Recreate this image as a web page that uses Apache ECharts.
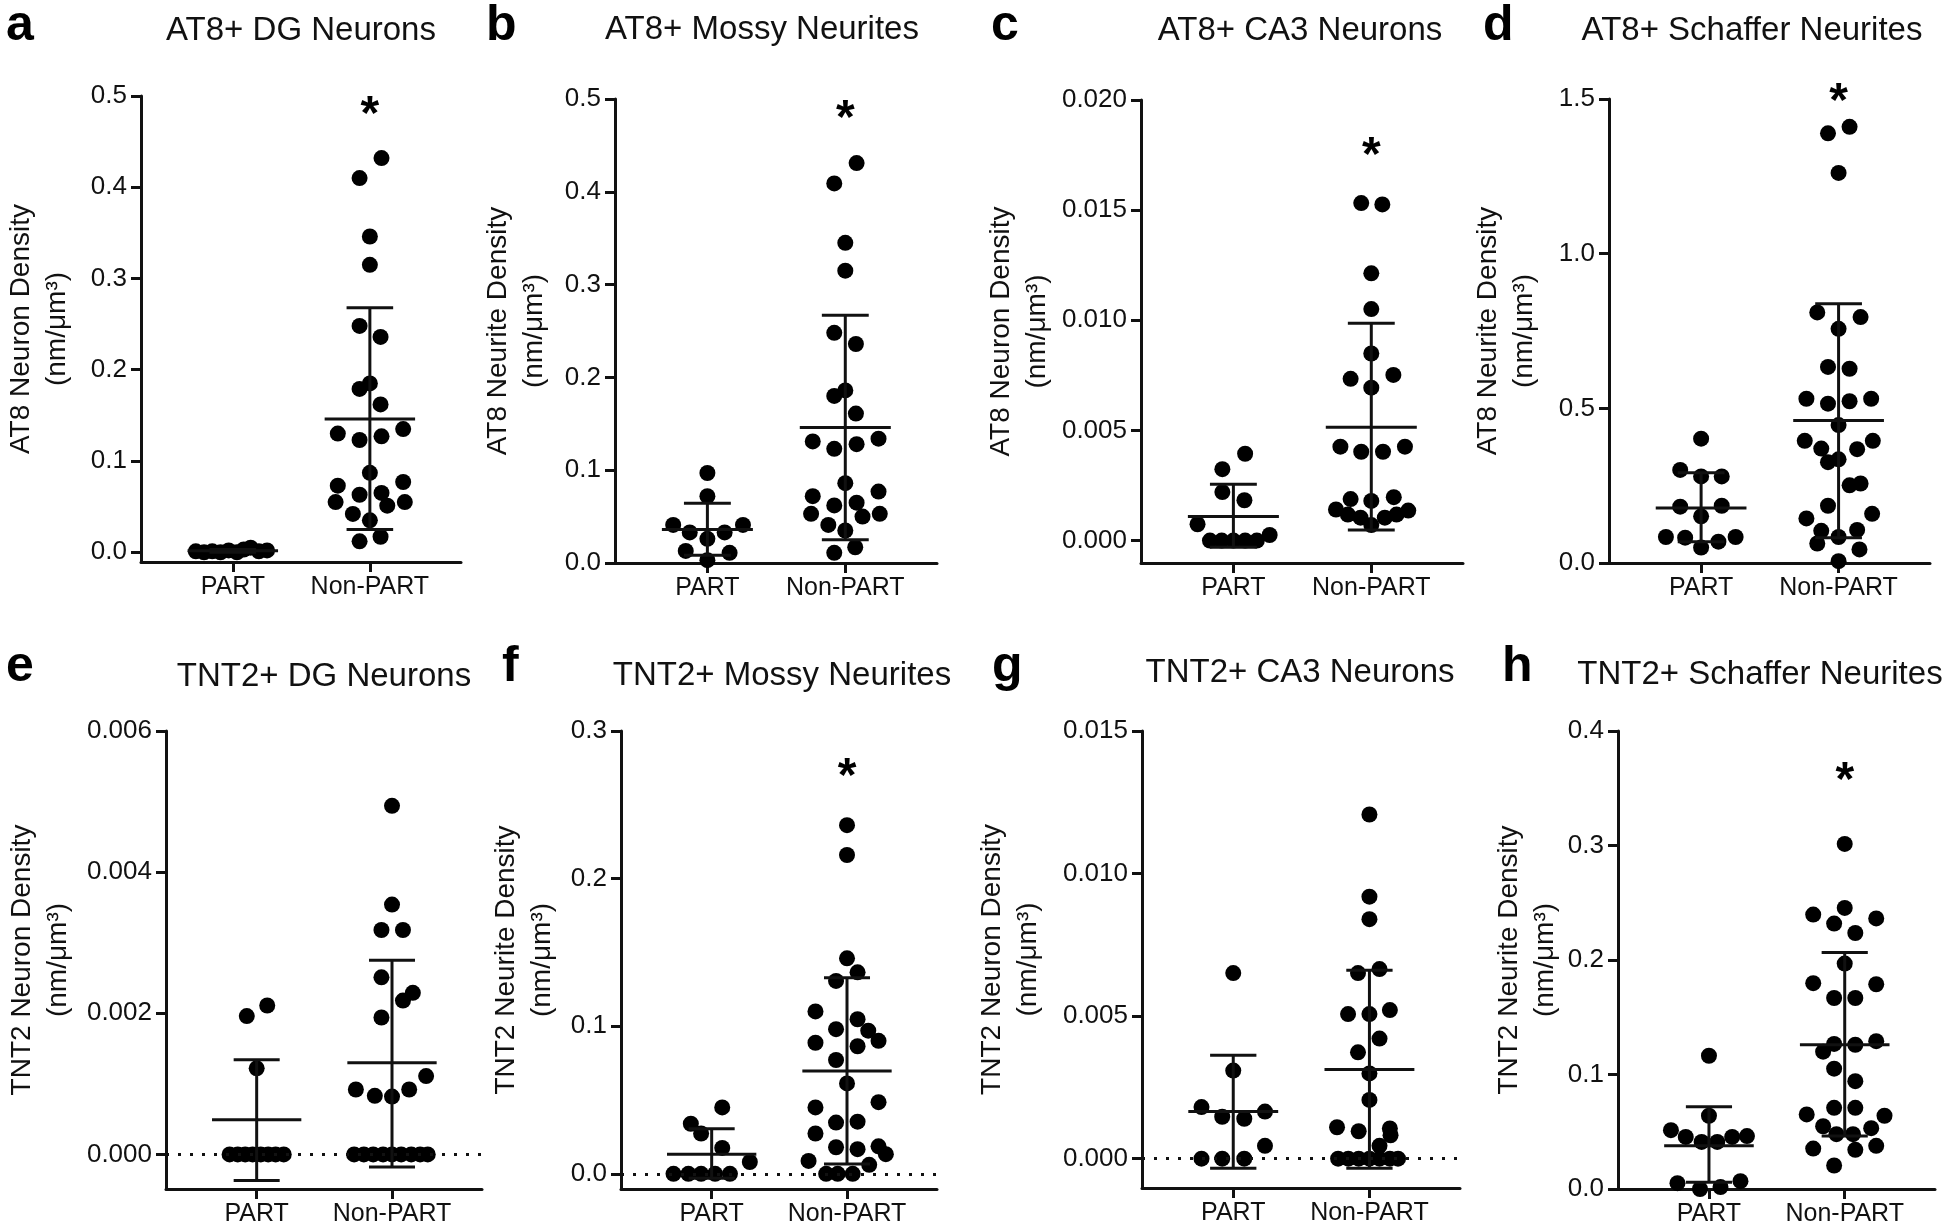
<!DOCTYPE html>
<html>
<head>
<meta charset="utf-8">
<title>AT8 / TNT2 density, PART vs Non-PART</title>
<script src="https://cdn.jsdelivr.net/npm/echarts@6/dist/echarts.min.js"></script>
<style>
  html, body { margin: 0; padding: 0; background: #fff; }
  #chart { width: 1946px; height: 1228px; }
</style>
</head>
<body>
<div id="chart"></div>
<script>
const groups = ['PART', 'Non-PART']
const letters = ['a', 'b', 'c', 'd', 'e', 'f', 'g', 'h']
const titles = [
  'AT8+ DG Neurons', 'AT8+ Mossy Neurites', 'AT8+ CA3 Neurons', 'AT8+ Schaffer Neurites',
  'TNT2+ DG Neurons', 'TNT2+ Mossy Neurites', 'TNT2+ CA3 Neurons', 'TNT2+ Schaffer Neurites'
]
const yNames = [
  'AT8 Neuron Density\n(nm/μm³)', 'AT8 Neurite Density\n(nm/μm³)',
  'AT8 Neuron Density\n(nm/μm³)', 'AT8 Neurite Density\n(nm/μm³)',
  'TNT2 Neuron Density\n(nm/μm³)', 'TNT2 Neurite Density\n(nm/μm³)',
  'TNT2 Neuron Density\n(nm/μm³)', 'TNT2 Neurite Density\n(nm/μm³)'
]

// axis ranges and ticks
const yMin = [-0.0107, 0, -0.00102, 0, -0.00049, -0.0103, -0.00103, 0]
const yMax = [0.5, 0.5, 0.020, 1.5, 0.006, 0.3, 0.015, 0.4]
const yTicks = [
  [0, 0.1, 0.2, 0.3, 0.4, 0.5],
  [0, 0.1, 0.2, 0.3, 0.4, 0.5],
  [0, 0.005, 0.010, 0.015, 0.020],
  [0, 0.5, 1.0, 1.5],
  [0, 0.002, 0.004, 0.006],
  [0, 0.1, 0.2, 0.3],
  [0, 0.005, 0.010, 0.015],
  [0, 0.1, 0.2, 0.3, 0.4]
]
const yTickLabels = [
  ['0.0', '0.1', '0.2', '0.3', '0.4', '0.5'],
  ['0.0', '0.1', '0.2', '0.3', '0.4', '0.5'],
  ['0.000', '0.005', '0.010', '0.015', '0.020'],
  ['0.0', '0.5', '1.0', '1.5'],
  ['0.000', '0.002', '0.004', '0.006'],
  ['0.0', '0.1', '0.2', '0.3'],
  ['0.000', '0.005', '0.010', '0.015'],
  ['0.0', '0.1', '0.2', '0.3', '0.4']
]

// dots: [horizontal jitter from group centre, value]
const at8DgPart = [[-0.27, 0.001], [-0.21, 0.0], [-0.15, 0.001], [-0.09, 0.0], [-0.03, 0.002],
  [0.03, 0.0], [0.08, 0.003], [0.13, 0.005], [0.19, 0.001], [0.25, 0.002]]
const at8DgNonPart = [[0.085, 0.432], [-0.075, 0.410], [0, 0.346], [0, 0.315], [-0.075, 0.248],
  [0.078, 0.236], [0, 0.185], [-0.075, 0.179], [0.078, 0.162], [-0.234, 0.130], [-0.075, 0.123],
  [0.085, 0.127], [0.243, 0.135], [0, 0.087], [-0.234, 0.073], [0.243, 0.077], [-0.075, 0.063],
  [0.085, 0.065], [-0.25, 0.055], [0.127, 0.051], [0.255, 0.055], [-0.124, 0.042], [0, 0.035],
  [-0.075, 0.012], [0.078, 0.017]]

const at8MossyPart = [[0, 0.097], [0, 0.072], [-0.248, 0.041], [-0.128, 0.033], [0, 0.026],
  [0.125, 0.033], [0.258, 0.041], [-0.157, 0.013], [0.161, 0.011], [0, 0.003]]
const at8MossyNonPart = [[0.082, 0.431], [-0.08, 0.409], [0, 0.345], [0, 0.315], [-0.08, 0.248],
  [0.077, 0.236], [0, 0.186], [-0.08, 0.180], [0.077, 0.161], [-0.236, 0.131], [-0.08, 0.123],
  [0.082, 0.128], [0.241, 0.134], [0, 0.086], [-0.236, 0.072], [0.241, 0.077], [-0.08, 0.062],
  [0.082, 0.065], [-0.248, 0.053], [0.125, 0.050], [0.25, 0.053], [-0.123, 0.041], [0, 0.035],
  [-0.08, 0.011], [0.072, 0.017]]

const at8Ca3Part = [[0.085, 0.00394], [-0.08, 0.00324], [-0.08, 0.0022], [0.08, 0.00183],
  [-0.26, 0.00074], [-0.17, 0], [-0.085, 0], [0, 0], [0.085, 0], [0.17, 0], [0.263, 0.00025]]
const at8Ca3NonPart = [[-0.073, 0.01532], [0.08, 0.01526], [0, 0.01213], [0, 0.01051], [0, 0.00849],
  [-0.15, 0.00734], [0.16, 0.00752], [0, 0.00694], [-0.224, 0.00426], [-0.073, 0.00403],
  [0.085, 0.00403], [0.244, 0.00426], [-0.15, 0.00188], [0, 0.0018], [0.163, 0.00197],
  [-0.256, 0.00141], [-0.17, 0.00118], [-0.078, 0.00104], [0, 0.0007], [0.098, 0.00104],
  [0.183, 0.00118], [0.268, 0.00136]]

const at8SchafferPart = [[0, 0.402], [-0.152, 0.301], [0, 0.28], [0.15, 0.28], [-0.152, 0.182],
  [0, 0.151], [0.15, 0.185], [-0.256, 0.084], [-0.116, 0.082], [0, 0.05], [0.126, 0.069], [0.251, 0.084]]
const at8SchafferNonPart = [[-0.077, 1.389], [0.08, 1.41], [0, 1.261], [-0.155, 0.81], [0.16, 0.795],
  [0, 0.757], [-0.077, 0.634], [0.08, 0.628], [-0.234, 0.531], [-0.077, 0.515], [0.08, 0.523],
  [0.237, 0.531], [0, 0.446], [-0.246, 0.395], [-0.126, 0.37], [0.135, 0.368], [0.249, 0.395],
  [-0.077, 0.326], [0, 0.335], [0.08, 0.251], [0.16, 0.257], [-0.077, 0.185], [-0.234, 0.144],
  [0.244, 0.159], [-0.126, 0.104], [0, 0.084], [0.135, 0.107], [-0.155, 0.063], [0.152, 0.044], [0, 0.006]]

const tnt2DgPart = [[0.078, 0.00211], [-0.073, 0.00196], [0, 0.00122], [-0.2, 0], [-0.14, 0],
  [-0.085, 0], [-0.03, 0], [0.03, 0], [0.085, 0], [0.14, 0], [0.2, 0]]
const tnt2DgNonPart = [[0, 0.00494], [0, 0.00354], [-0.078, 0.00318], [0.081, 0.00318], [-0.078, 0.00251],
  [0.154, 0.00229], [0.081, 0.00218], [-0.078, 0.00194], [0.252, 0.00111], [-0.267, 0.00092],
  [-0.127, 0.00083], [0, 0.00082], [0.127, 0.00092], [-0.28, 0], [-0.208, 0], [-0.139, 0],
  [-0.066, 0], [0, 0], [0.068, 0], [0.142, 0], [0.208, 0], [0.264, 0]]

const tnt2MossyPart = [[0.078, 0.045], [-0.154, 0.0339], [-0.078, 0.0273], [0.078, 0.0175],
  [0.282, 0.008], [-0.282, 0], [-0.172, 0], [-0.078, 0], [0.025, 0], [0.135, 0]]
const tnt2MossyNonPart = [[0, 0.2362], [0, 0.216], [0, 0.146], [0.078, 0.1365], [-0.081, 0.1307],
  [-0.233, 0.110], [0.078, 0.1047], [-0.081, 0.098], [0.157, 0.097], [-0.233, 0.0888], [0.233, 0.0901],
  [0.078, 0.0864], [-0.081, 0.0771], [0, 0.0612], [-0.233, 0.045], [0.233, 0.0485], [-0.081, 0.0347],
  [0.078, 0.0353], [-0.233, 0.0273], [-0.081, 0.018], [0.078, 0.0167], [0.233, 0.0186], [0.287, 0.0133],
  [-0.284, 0.0087], [0.164, 0.0061], [-0.154, 0], [-0.069, 0], [0.042, 0]]

const tnt2Ca3Part = [[0, 0.00651], [0, 0.00309], [-0.233, 0.00181], [0.233, 0.00165], [-0.081, 0.00147],
  [0.081, 0.0014], [0.233, 0.00045], [-0.233, 0], [-0.081, 0], [0.081, 0]]
const tnt2Ca3NonPart = [[0, 0.01207], [0, 0.00919], [0, 0.0084], [-0.084, 0.00651], [0.074, 0.00665],
  [-0.157, 0.00507], [0, 0.00507], [0.15, 0.00521], [0.074, 0.00421], [-0.084, 0.00373], [0, 0.00299],
  [0, 0.00206], [-0.238, 0.0011], [-0.079, 0.00096], [0.15, 0.00106], [0.155, 0.00082], [0.074, 0.00045],
  [-0.23, 0], [-0.155, 0], [-0.079, 0], [0, 0], [0.074, 0], [0.15, 0], [0.21, 0]]

const tnt2SchafferPart = [[0, 0.1164], [0, 0.064], [-0.28, 0.0514], [-0.171, 0.0455], [-0.054, 0.0411],
  [0.061, 0.0411], [0.171, 0.0455], [0.28, 0.0462], [-0.232, 0.0051], [0.085, 0.0017], [-0.066, 0], [0.232, 0.0068]]
const tnt2SchafferNonPart = [[0, 0.3014], [-0.232, 0.2397], [0, 0.2455], [0.232, 0.2363], [-0.078, 0.2318],
  [0.078, 0.2236], [0, 0.1969], [-0.232, 0.1798], [0.232, 0.1788], [-0.078, 0.1668], [0.078, 0.1668],
  [-0.078, 0.1267], [0.232, 0.1291], [0.078, 0.126], [-0.159, 0.1199], [-0.078, 0.1051], [0.078, 0.0942],
  [-0.078, 0.0709], [0.078, 0.0709], [-0.28, 0.0651], [0.293, 0.064], [-0.159, 0.0548], [0.195, 0.0531],
  [-0.061, 0.0479], [0.061, 0.0479], [-0.232, 0.0353], [0.078, 0.0342], [0.232, 0.0377], [-0.078, 0.0205]]

// mean line and SD whiskers: [mean, low, high] for PART, Non-PART
const at8DgBars = [[0.0015, 0.0, 0.003], [0.146, 0.025, 0.268]]
const at8MossyBars = [[0.036, 0.0083, 0.0645], [0.146, 0.025, 0.267]]
const at8Ca3Bars = [[0.00109, -0.0003, 0.00255], [0.00514, 0.00048, 0.00986]]
const at8SchafferBars = [[0.178, 0.069, 0.292], [0.461, 0.082, 0.838]]
const tnt2DgBars = [[0.00049, -0.00037, 0.00134], [0.0013, -0.00018, 0.00275]]
const tnt2MossyBars = [[0.0133, -0.003, 0.0305], [0.0697, 0.0066, 0.1328]]
const tnt2Ca3Bars = [[0.00165, -0.00034, 0.00363], [0.00313, -0.00034, 0.00661]]
const tnt2SchafferBars = [[0.0377, 0.0058, 0.0719], [0.126, 0.0462, 0.2065]]

// significance star above Non-PART (null = none)
const starValues = [0.49, 0.49, 0.0179, 1.525, null, 0.276, null, 0.365]
const zeroLine = [false, false, false, false, true, true, true, false]

const partDots = [at8DgPart, at8MossyPart, at8Ca3Part, at8SchafferPart, tnt2DgPart, tnt2MossyPart, tnt2Ca3Part, tnt2SchafferPart]
const nonPartDots = [at8DgNonPart, at8MossyNonPart, at8Ca3NonPart, at8SchafferNonPart, tnt2DgNonPart, tnt2MossyNonPart, tnt2Ca3NonPart, tnt2SchafferNonPart]
const errorBars = [at8DgBars, at8MossyBars, at8Ca3Bars, at8SchafferBars, tnt2DgBars, tnt2MossyBars, tnt2Ca3Bars, tnt2SchafferBars]

// layout (px)
const gridLeft = [141, 615, 1141, 1609, 166, 621, 1142, 1618]
const gridWidth = [320, 322, 322, 321, 316, 316, 318, 317]
const gridTop = [96, 99, 100, 99, 731, 731, 731, 731]
const gridHeight = [466, 464, 463, 464, 458, 458, 457, 458]
const nameGap = [66, 63, 86, 67, 90, 61, 96, 55]
const titlePos = [[301, 31], [762, 30], [1300, 31], [1752, 31], [324, 677], [782, 676], [1300, 673], [1760, 675]]
const letterPos = [[6, 26], [486, 26], [991, 26], [1483, 26], [6, 667], [502, 667], [992, 667], [1502, 667]]

const FONT = '"Liberation Sans", Arial, Helvetica, sans-serif'
const INK = '#111'

const chart = echarts.init(document.getElementById('chart'), null, { renderer: 'canvas' })

const grids = []
const xAxes = []
const yAxes = []
const series = []
const graphics = []

// mean line + SD whiskers with caps
function barRenderer(params, api) {
  const x = api.value(0)
  const mean = api.value(1)
  const lo = api.value(2)
  const hi = api.value(3)
  const style = { stroke: INK, lineWidth: 3 }
  const seg = (a, b) => ({ type: 'line', shape: { x1: a[0], y1: a[1], x2: b[0], y2: b[1] }, style })
  return {
    type: 'group',
    children: [
      seg(api.coord([x - 0.33, mean]), api.coord([x + 0.33, mean])),
      seg(api.coord([x, lo]), api.coord([x, hi])),
      seg(api.coord([x - 0.17, hi]), api.coord([x + 0.17, hi])),
      seg(api.coord([x - 0.17, lo]), api.coord([x + 0.17, lo]))
    ]
  }
}

letters.forEach((letter, i) => {
  grids.push({ left: gridLeft[i], top: gridTop[i], width: gridWidth[i], height: gridHeight[i], containLabel: false })

  xAxes.push({
    type: 'value', gridIndex: i, min: 0.33, max: 2.665,
    axisLine: { show: true, onZero: false, lineStyle: { color: INK, width: 3 } },
    axisTick: { show: true, customValues: [1, 2], length: 10, lineStyle: { color: INK, width: 3 } },
    axisLabel: {
      show: true, customValues: [1, 2], margin: 13,
      formatter: v => groups[Math.round(v) - 1],
      color: INK, fontSize: 25, fontFamily: FONT
    },
    splitLine: { show: false }
  })

  yAxes.push({
    type: 'value', gridIndex: i, min: yMin[i], max: yMax[i],
    name: yNames[i], nameLocation: 'middle', nameGap: nameGap[i],
    nameTextStyle: { color: INK, fontSize: 28, fontFamily: FONT, lineHeight: 36 },
    axisLine: { show: true, lineStyle: { color: INK, width: 3 } },
    axisTick: { show: true, customValues: yTicks[i], length: 10, lineStyle: { color: INK, width: 3 } },
    axisLabel: {
      show: true, customValues: yTicks[i], margin: 14,
      formatter: v => {
        const k = yTicks[i].findIndex(t => Math.abs(t - v) < 1e-9)
        return k >= 0 ? yTickLabels[i][k] : ''
      },
      color: INK, fontSize: 26, fontFamily: FONT
    },
    splitLine: { show: false }
  })

  const dots = partDots[i].map(d => [1 + d[0], d[1]])
    .concat(nonPartDots[i].map(d => [2 + d[0], d[1]]))

  const scatter = {
    type: 'scatter', xAxisIndex: i, yAxisIndex: i,
    symbol: 'circle', symbolSize: 16,
    itemStyle: { color: '#000', opacity: 1 },
    data: dots, silent: true, z: 3
  }
  if (zeroLine[i]) {
    scatter.markLine = {
      silent: true, symbol: 'none', label: { show: false },
      lineStyle: { color: INK, width: 3, type: [3, 9], opacity: 1 },
      data: [{ yAxis: 0 }]
    }
  }
  series.push(scatter)

  series.push({
    type: 'custom', xAxisIndex: i, yAxisIndex: i,
    renderItem: barRenderer, silent: true, z: 4,
    data: errorBars[i].map((b, k) => [k + 1, b[0], b[1], b[2]])
  })

  if (starValues[i] != null) {
    series.push({
      type: 'scatter', xAxisIndex: i, yAxisIndex: i, clip: false,
      symbolSize: 2, itemStyle: { color: 'rgba(0,0,0,0)', opacity: 1 }, silent: true, z: 5,
      data: [[2, starValues[i]]],
      label: {
        show: true, position: 'inside', formatter: '*', offset: [0, 11],
        color: '#000', fontSize: 48, fontWeight: 'bold', fontFamily: FONT
      }
    })
  }

  graphics.push({
    type: 'text', x: titlePos[i][0], y: titlePos[i][1],
    style: { text: titles[i], fill: INK, fontSize: 33, fontFamily: FONT, align: 'center', verticalAlign: 'middle' }
  })
  graphics.push({
    type: 'text', x: letterPos[i][0], y: letterPos[i][1],
    style: { text: letter, fill: '#000', fontSize: 50, fontWeight: 'bold', fontFamily: FONT, align: 'left', verticalAlign: 'middle' }
  })
})

chart.setOption({
  backgroundColor: '#fff',
  animation: false,
  grid: grids,
  xAxis: xAxes,
  yAxis: yAxes,
  series: series,
  graphic: graphics
})
</script>
</body>
</html>
